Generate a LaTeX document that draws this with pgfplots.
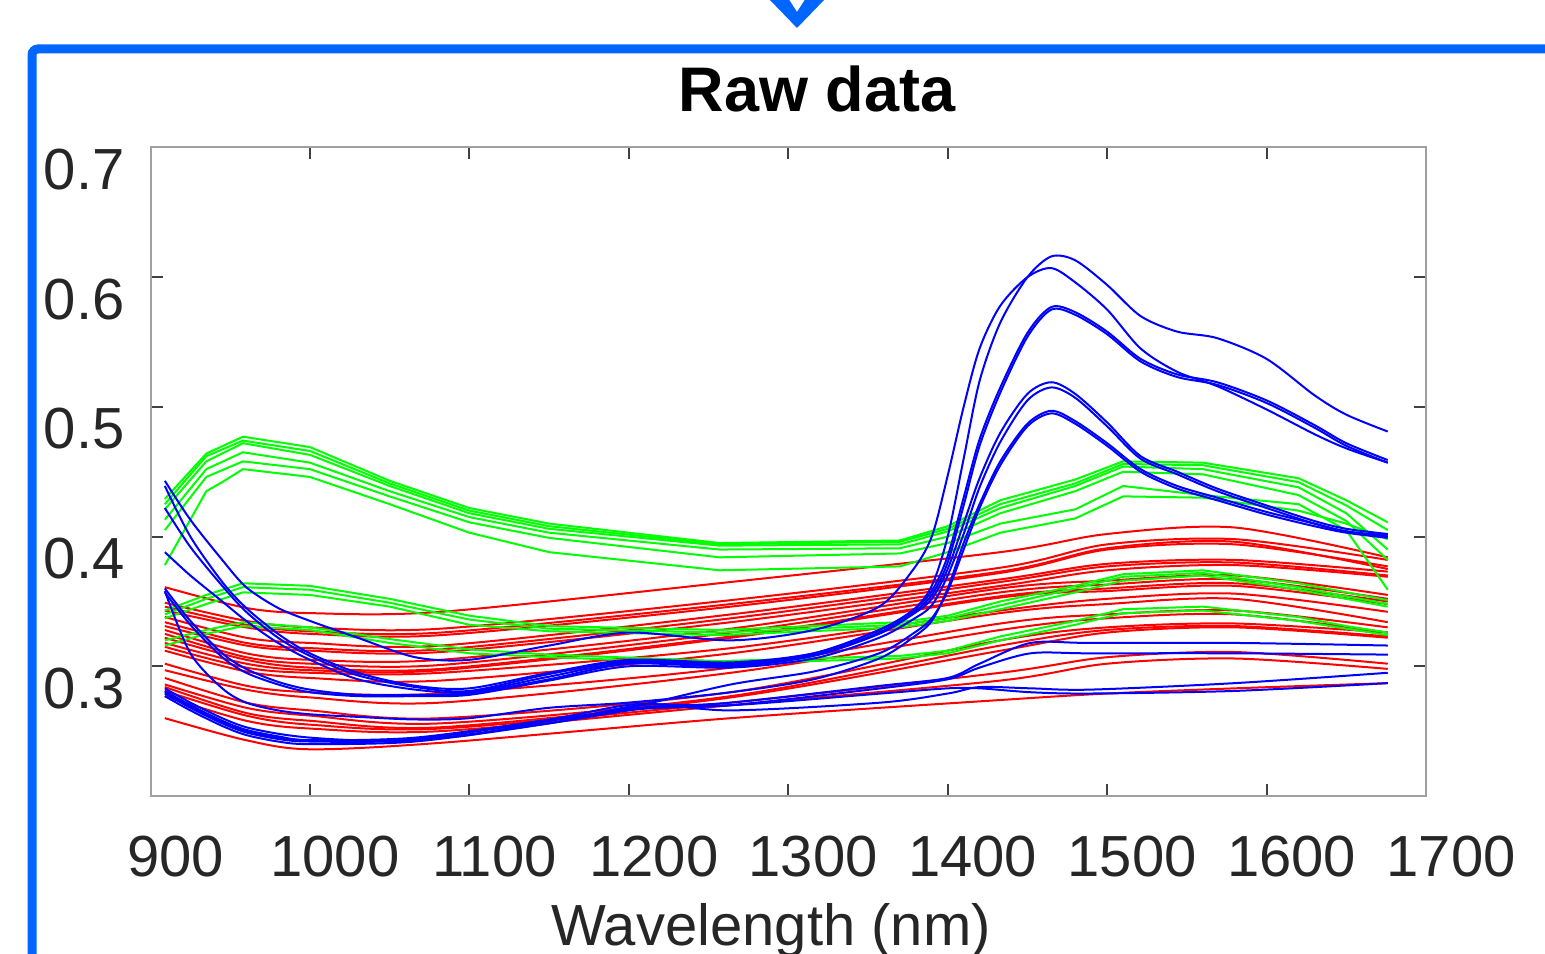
\documentclass[border=0pt]{standalone}
\usepackage{pgfplots}
\pgfplotsset{compat=1.18}
\usepackage{fontspec}
\setmainfont{Liberation Sans}
\definecolor{frameblue}{HTML}{0066FF}
\definecolor{axgray}{HTML}{A0A0A0}
\definecolor{mgreen}{HTML}{00FF00}
\definecolor{mred}{HTML}{FF0000}
\definecolor{mblue}{HTML}{0000FF}
\pgfplotsset{
  rc/.style={mred, line width=1bp, smooth, mark=none},
  gc/.style={mgreen, line width=1bp, mark=none},
  bc/.style={mblue, line width=1bp, smooth, mark=none},
}
\begin{document}
\begin{tikzpicture}[x=1bp,y=1bp]
\useasboundingbox (0,0) rectangle (772.5,477);
\begin{scope}
\clip (0,0) rectangle (772.5,477);
% frame and arrow head
\draw[frameblue, line width=4.5bp, rounded corners=3bp] (16,-10) -- (16,452.5) -- (800,452.5);
\fill[frameblue, even odd rule] (384,478) -- (398.5,463) -- (413,478) -- cycle
  (394,478) -- (398.5,471) -- (403,478) -- cycle;
\begin{axis}[
  at={(75.25bp,79bp)}, anchor=south west,
  scale only axis, width=637.75bp, height=324.25bp,
  xmin=900, xmax=1700, ymin=0.2, ymax=0.7,
  axis line style={axgray, line width=1bp},
  tick style={black!75, line width=1bp},
  major tick length=6bp,
  tick align=inside,
  xtick={900,1000,1100,1200,1300,1400,1500,1600,1700},
  xticklabels={900,1000,1100,1200,1300,1400,1500,1600,1700},
  ytick={0.3,0.4,0.5,0.6,0.7},
  yticklabels={0.3,0.4,0.5,0.6,0.7},
  ticklabel style={font=\fontsize{29bp}{34bp}\selectfont, text=black!85},
  xticklabel style={anchor=base, yshift=-40.5bp, xshift=12.5bp},
  yticklabel style={anchor=east, inner xsep=0pt, xshift=-12.75bp, yshift=-11bp},
]
% red spectra
\addplot[rc] coordinates {(909,0.361)(960,0.345)(1000,0.341)(1082,0.342)(1264,0.365)(1433,0.388)(1500,0.402)(1580,0.407)(1676,0.384)};
\addplot[rc] coordinates {(909,0.349)(960,0.335)(1000,0.330)(1082,0.329)(1264,0.351)(1433,0.376)(1500,0.394)(1580,0.398)(1676,0.382)};
\addplot[rc] coordinates {(909,0.346)(960,0.332)(1000,0.327)(1082,0.326)(1264,0.348)(1433,0.373)(1500,0.391)(1580,0.396)(1676,0.375)};
\addplot[rc] coordinates {(909,0.343)(960,0.330)(1000,0.325)(1082,0.324)(1264,0.346)(1433,0.372)(1500,0.390)(1580,0.394)(1676,0.377)};
\addplot[rc] coordinates {(909,0.338)(960,0.322)(1000,0.318)(1082,0.316)(1264,0.340)(1433,0.367)(1500,0.379)(1580,0.382)(1676,0.373)};
\addplot[rc] coordinates {(909,0.334)(960,0.318)(1000,0.314)(1082,0.313)(1264,0.337)(1433,0.365)(1500,0.377)(1580,0.380)(1676,0.370)};
\addplot[rc] coordinates {(909,0.331)(960,0.316)(1000,0.312)(1082,0.311)(1264,0.334)(1433,0.362)(1500,0.374)(1580,0.378)(1676,0.369)};
\addplot[rc] coordinates {(909,0.328)(960,0.310)(1000,0.305)(1082,0.305)(1264,0.329)(1433,0.360)(1500,0.366)(1580,0.370)(1676,0.355)};
\addplot[rc] coordinates {(909,0.325)(960,0.307)(1000,0.302)(1082,0.301)(1264,0.326)(1433,0.357)(1500,0.363)(1580,0.367)(1676,0.352)};
\addplot[rc] coordinates {(909,0.322)(960,0.305)(1000,0.299)(1082,0.298)(1264,0.323)(1433,0.354)(1500,0.360)(1580,0.364)(1676,0.350)};
\addplot[rc] coordinates {(909,0.318)(960,0.302)(1000,0.297)(1082,0.297)(1264,0.322)(1433,0.353)(1500,0.358)(1580,0.362)(1676,0.348)};
\addplot[rc] coordinates {(909,0.315)(960,0.299)(1000,0.295)(1082,0.295)(1264,0.314)(1433,0.343)(1500,0.352)(1580,0.356)(1676,0.342)};
\addplot[rc] coordinates {(909,0.312)(960,0.296)(1000,0.291)(1082,0.289)(1264,0.310)(1433,0.341)(1500,0.348)(1580,0.352)(1676,0.334)};
\addplot[rc] coordinates {(909,0.302)(960,0.285)(1000,0.280)(1082,0.279)(1264,0.299)(1433,0.333)(1500,0.340)(1580,0.343)(1676,0.330)};
\addplot[rc] coordinates {(909,0.297)(960,0.282)(1000,0.276)(1082,0.272)(1264,0.295)(1433,0.328)(1500,0.337)(1580,0.340)(1676,0.326)};
\addplot[rc] coordinates {(909,0.291)(960,0.272)(1000,0.266)(1082,0.260)(1264,0.280)(1433,0.320)(1500,0.330)(1580,0.333)(1676,0.326)};
\addplot[rc] coordinates {(909,0.286)(960,0.268)(1000,0.262)(1082,0.256)(1264,0.277)(1433,0.316)(1500,0.328)(1580,0.331)(1676,0.323)};
\addplot[rc] coordinates {(909,0.284)(960,0.264)(1000,0.258)(1082,0.253)(1264,0.276)(1433,0.312)(1500,0.326)(1580,0.330)(1676,0.322)};
\addplot[rc] coordinates {(909,0.281)(960,0.262)(1000,0.255)(1082,0.252)(1264,0.272)(1433,0.295)(1500,0.307)(1580,0.311)(1676,0.302)};
\addplot[rc] coordinates {(909,0.277)(960,0.258)(1000,0.252)(1082,0.250)(1264,0.270)(1433,0.289)(1500,0.302)(1580,0.306)(1676,0.298)};
\addplot[rc] coordinates {(909,0.260)(960,0.243)(1000,0.236)(1082,0.241)(1264,0.260)(1433,0.274)(1500,0.279)(1580,0.283)(1676,0.287)};
% green spectra
\addplot[gc] coordinates {(909,0.429)(935,0.464)(958,0.477)(1000,0.469)(1050,0.443)(1100,0.422)(1150,0.410)(1257,0.395)(1370,0.397)(1400,0.408)(1433,0.428)(1480,0.444)(1510,0.458)(1560,0.457)(1620,0.445)(1650,0.428)(1676,0.411)};
\addplot[gc] coordinates {(909,0.425)(935,0.462)(958,0.474)(1000,0.466)(1050,0.441)(1100,0.420)(1150,0.408)(1257,0.394)(1370,0.396)(1400,0.406)(1433,0.425)(1480,0.441)(1510,0.456)(1560,0.455)(1620,0.442)(1650,0.424)(1676,0.405)};
\addplot[gc] coordinates {(909,0.421)(935,0.458)(958,0.472)(1000,0.463)(1050,0.439)(1100,0.418)(1150,0.406)(1257,0.393)(1370,0.394)(1400,0.404)(1433,0.422)(1480,0.439)(1510,0.454)(1560,0.452)(1620,0.438)(1650,0.418)(1676,0.390)};
\addplot[gc] coordinates {(909,0.413)(935,0.452)(958,0.465)(1000,0.457)(1050,0.435)(1100,0.415)(1150,0.403)(1257,0.390)(1370,0.391)(1400,0.400)(1433,0.418)(1480,0.435)(1510,0.450)(1560,0.448)(1620,0.432)(1650,0.412)(1676,0.382)};
\addplot[gc] coordinates {(909,0.405)(935,0.446)(958,0.458)(1000,0.452)(1050,0.431)(1100,0.411)(1150,0.399)(1257,0.384)(1370,0.387)(1400,0.395)(1433,0.410)(1480,0.421)(1510,0.439)(1560,0.432)(1620,0.425)(1650,0.405)(1676,0.359)};
\addplot[gc] coordinates {(909,0.378)(935,0.435)(945,0.442)(958,0.452)(1000,0.446)(1050,0.425)(1100,0.403)(1150,0.388)(1257,0.374)(1370,0.377)(1400,0.388)(1433,0.403)(1480,0.414)(1510,0.431)(1560,0.430)(1620,0.420)(1650,0.410)(1676,0.398)};
\addplot[gc] coordinates {(909,0.343)(935,0.355)(958,0.364)(1000,0.362)(1050,0.352)(1100,0.339)(1150,0.331)(1257,0.328)(1370,0.334)(1400,0.339)(1433,0.350)(1480,0.362)(1510,0.371)(1560,0.374)(1620,0.364)(1650,0.357)(1676,0.351)};
\addplot[gc] coordinates {(909,0.340)(935,0.352)(958,0.361)(1000,0.359)(1050,0.349)(1100,0.336)(1150,0.329)(1257,0.326)(1370,0.332)(1400,0.337)(1433,0.347)(1480,0.360)(1510,0.369)(1560,0.372)(1620,0.361)(1650,0.354)(1676,0.348)};
\addplot[gc] coordinates {(909,0.337)(935,0.348)(958,0.357)(1000,0.355)(1050,0.346)(1100,0.332)(1150,0.327)(1257,0.324)(1370,0.330)(1400,0.335)(1433,0.344)(1480,0.357)(1510,0.366)(1560,0.370)(1620,0.359)(1650,0.352)(1676,0.346)};
\addplot[gc] coordinates {(909,0.320)(935,0.328)(958,0.334)(1000,0.330)(1050,0.321)(1100,0.313)(1150,0.309)(1257,0.304)(1370,0.308)(1400,0.312)(1433,0.323)(1480,0.335)(1510,0.344)(1560,0.346)(1620,0.338)(1650,0.331)(1676,0.326)};
\addplot[gc] coordinates {(909,0.316)(935,0.325)(958,0.331)(1000,0.328)(1050,0.318)(1100,0.310)(1150,0.307)(1257,0.302)(1370,0.306)(1400,0.310)(1433,0.320)(1480,0.332)(1510,0.341)(1560,0.343)(1620,0.335)(1650,0.329)(1676,0.324)};
% blue spectra, flat ones
\addplot[bc] coordinates {(909,0.281)(925,0.270)(945,0.258)(960,0.251)(980,0.246)(1000,0.243)(1066,0.244)(1150,0.258)(1207,0.268)(1264,0.272)(1358,0.285)(1400,0.291)(1420,0.302)(1452,0.318)(1489,0.318)(1580,0.318)(1676,0.316)};
\addplot[bc] coordinates {(909,0.279)(925,0.268)(945,0.256)(960,0.249)(980,0.244)(1000,0.242)(1066,0.243)(1150,0.256)(1207,0.267)(1264,0.270)(1358,0.283)(1400,0.290)(1420,0.299)(1452,0.310)(1489,0.310)(1580,0.310)(1676,0.309)};
\addplot[bc] coordinates {(909,0.280)(925,0.269)(945,0.257)(960,0.250)(980,0.245)(1000,0.243)(1066,0.245)(1150,0.259)(1207,0.271)(1264,0.266)(1358,0.272)(1400,0.279)(1420,0.284)(1452,0.283)(1489,0.282)(1580,0.287)(1676,0.295)};
\addplot[bc] coordinates {(909,0.277)(925,0.266)(945,0.254)(960,0.247)(980,0.242)(1000,0.240)(1066,0.242)(1150,0.256)(1207,0.270)(1264,0.270)(1358,0.279)(1400,0.283)(1420,0.283)(1452,0.280)(1489,0.279)(1580,0.281)(1676,0.287)};
% blue spectra, with the peak near 1465 nm
\addplot[bc] coordinates {(909,0.439)(925,0.400)(945,0.365)(960,0.345)(980,0.325)(1000,0.310)(1030,0.295)(1066,0.285)(1100,0.283)(1150,0.295)(1200,0.305)(1264,0.303)(1316,0.310)(1357,0.328)(1378,0.343)(1390,0.362)(1400,0.400)(1410,0.460)(1420,0.520)(1433,0.565)(1450,0.600)(1465,0.616)(1480,0.613)(1500,0.594)(1521,0.570)(1544,0.558)(1569,0.553)(1600,0.537)(1630,0.509)(1650,0.494)(1676,0.481)};
\addplot[bc] coordinates {(909,0.443)(925,0.413)(945,0.382)(960,0.361)(980,0.345)(1000,0.335)(1030,0.322)(1066,0.307)(1100,0.305)(1150,0.316)(1200,0.326)(1264,0.320)(1316,0.328)(1357,0.346)(1378,0.374)(1390,0.400)(1400,0.447)(1410,0.500)(1420,0.545)(1433,0.578)(1450,0.600)(1465,0.607)(1480,0.596)(1500,0.575)(1521,0.545)(1544,0.527)(1569,0.516)(1600,0.498)(1630,0.479)(1650,0.468)(1676,0.457)};
\addplot[bc] coordinates {(909,0.422)(925,0.392)(945,0.362)(960,0.342)(980,0.322)(1000,0.308)(1030,0.293)(1066,0.284)(1100,0.281)(1150,0.294)(1200,0.304)(1264,0.302)(1316,0.310)(1357,0.328)(1378,0.343)(1390,0.358)(1400,0.385)(1410,0.430)(1420,0.475)(1433,0.515)(1450,0.557)(1465,0.577)(1480,0.573)(1500,0.558)(1521,0.537)(1544,0.525)(1569,0.519)(1600,0.505)(1630,0.486)(1650,0.472)(1676,0.459)};
\addplot[bc] coordinates {(909,0.388)(925,0.370)(945,0.350)(960,0.335)(980,0.318)(1000,0.305)(1030,0.290)(1066,0.282)(1100,0.280)(1150,0.292)(1200,0.303)(1264,0.301)(1316,0.309)(1357,0.326)(1378,0.341)(1390,0.355)(1400,0.380)(1410,0.424)(1420,0.470)(1433,0.511)(1450,0.554)(1465,0.575)(1480,0.571)(1500,0.556)(1521,0.535)(1544,0.523)(1569,0.517)(1600,0.503)(1630,0.484)(1650,0.470)(1676,0.457)};
\addplot[bc] coordinates {(909,0.360)(925,0.335)(945,0.310)(960,0.298)(980,0.288)(1000,0.282)(1030,0.278)(1066,0.278)(1100,0.279)(1150,0.290)(1200,0.302)(1264,0.300)(1316,0.308)(1357,0.325)(1378,0.340)(1390,0.352)(1400,0.375)(1410,0.410)(1420,0.445)(1433,0.480)(1450,0.510)(1465,0.519)(1480,0.510)(1500,0.488)(1521,0.462)(1544,0.450)(1569,0.437)(1600,0.424)(1630,0.412)(1650,0.406)(1676,0.402)};
\addplot[bc] coordinates {(909,0.357)(925,0.332)(945,0.307)(960,0.295)(980,0.286)(1000,0.280)(1030,0.277)(1066,0.277)(1100,0.278)(1150,0.289)(1200,0.300)(1264,0.299)(1316,0.306)(1357,0.322)(1378,0.336)(1390,0.347)(1400,0.370)(1410,0.402)(1420,0.438)(1433,0.473)(1450,0.505)(1465,0.515)(1480,0.507)(1500,0.485)(1521,0.460)(1544,0.448)(1569,0.435)(1600,0.422)(1630,0.410)(1650,0.404)(1676,0.401)};
\addplot[bc] coordinates {(909,0.358)(925,0.310)(945,0.283)(960,0.272)(980,0.266)(1000,0.263)(1030,0.261)(1066,0.259)(1100,0.260)(1150,0.268)(1200,0.272)(1264,0.280)(1316,0.290)(1357,0.306)(1378,0.322)(1390,0.335)(1400,0.360)(1410,0.395)(1420,0.425)(1433,0.458)(1450,0.487)(1465,0.497)(1480,0.489)(1500,0.472)(1521,0.452)(1544,0.439)(1569,0.430)(1600,0.419)(1630,0.410)(1650,0.404)(1676,0.400)};
\addplot[bc] coordinates {(909,0.283)(925,0.272)(945,0.260)(960,0.253)(980,0.248)(1000,0.245)(1030,0.243)(1066,0.244)(1100,0.247)(1150,0.258)(1200,0.268)(1264,0.286)(1316,0.296)(1357,0.310)(1378,0.325)(1390,0.337)(1400,0.358)(1410,0.390)(1420,0.422)(1433,0.455)(1450,0.485)(1465,0.495)(1480,0.487)(1500,0.470)(1521,0.450)(1544,0.437)(1569,0.428)(1600,0.417)(1630,0.408)(1650,0.403)(1676,0.399)};
\end{axis}
\node[anchor=base, font=\bfseries\fontsize{31.5bp}{36bp}\selectfont] at (408.5,421) {Raw data};
\node[anchor=base, font=\fontsize{29bp}{34bp}\selectfont, text=black!85] at (385.5,4) {Wavelength (nm)};
\end{scope}
\end{tikzpicture}
\end{document}
